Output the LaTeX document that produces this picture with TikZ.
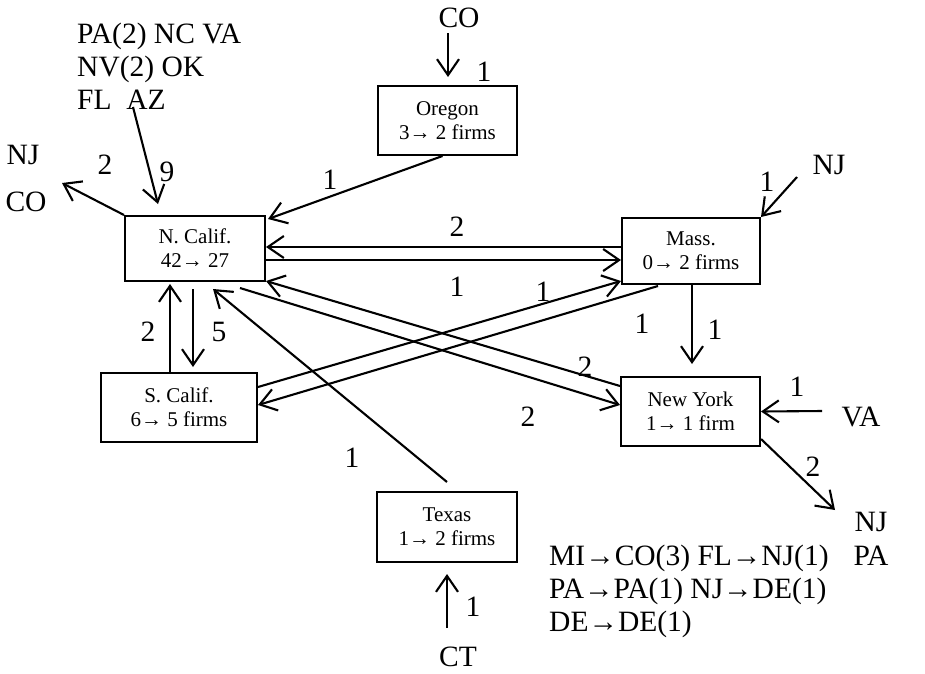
\documentclass[tikz,border=0pt]{standalone}
\usepackage{fontspec}
\setmainfont{Liberation Serif}
\usetikzlibrary{arrows.meta,calc}
\begin{document}
\begin{tikzpicture}[x=1pt,y=-1pt,
  box/.style={draw,line width=2pt,inner sep=0pt,align=center,font=\fontsize{21}{24}\selectfont},
  lbl/.style={inner sep=0pt,font=\fontsize{29.5}{33}\selectfont},
  arr/.style={line width=2.1pt,-{Straight Barb[length=16pt,width=22pt,line width=2.1pt]}},
  ln/.style={line width=2.1pt}]
\useasboundingbox (0,0) rectangle (925,673);

% boxes
\node[box,minimum width=139pt,minimum height=69pt] (or) at (447.5,120.5) {Oregon\\3→ 2 firms};
\node[box,minimum width=140pt,minimum height=65pt] (nc) at (195,248.5) {N. Calif.\\42→ 27};
\node[box,minimum width=156pt,minimum height=69pt] (sc) at (179,407.5) {S. Calif.\\6→ 5 firms};
\node[box,minimum width=138pt,minimum height=66pt] (ma) at (691,251) {Mass.\\0→ 2 firms};
\node[box,minimum width=139pt,minimum height=69pt] (ny) at (690.5,411.5) {New York\\1→ 1 firm};
\node[box,minimum width=140pt,minimum height=70pt] (tx) at (447,527) {Texas\\1→ 2 firms};

% outside texts
\node[lbl,anchor=base west] (tl1) at (77,43) {PA(2) NC VA};
\node[lbl,anchor=base west] (tl2) at (77,76) {NV(2) OK};
\node[lbl,anchor=base west] (tl3) at (77,109) {FL\ \ AZ};
\node[lbl] (njL) at (23,155) {NJ};
\node[lbl] (coL) at (26,202) {CO};
\node[lbl] (coT) at (459,18) {CO};
\node[lbl] (njR) at (829,165) {NJ};
\node[lbl] (vaR) at (861,417) {VA};
\node[lbl] (njB) at (871,522) {NJ};
\node[lbl] (paB) at (871,556) {PA};
\node[lbl] (ctB) at (458,657) {CT};
\node[lbl,anchor=base west] (br1) at (549,565) {MI→CO(3) FL→NJ(1)};
\node[lbl,anchor=base west] (br2) at (549,598) {PA→PA(1) NJ→DE(1)};
\node[lbl,anchor=base west] (br3) at (549,631) {DE→DE(1)};

% free ends
\coordinate (coTop) at (448,33);
\coordinate (azEnd) at (133,107);
\coordinate (ncOut) at (62,183);
\coordinate (njIn) at (797,177);
\coordinate (vaIn) at (822,411);
\coordinate (nyOut) at (835,510);
\coordinate (ctIn) at (447,628);

% connectors
\draw[arr] (coTop) -- ($(or.north)+(0.5,-8)$);
\draw[arr] ($(or.south)+(-5,0)$) -- ($(nc.north east)+(2,4)$);
\draw[arr] ($(ma.west)+(0,-4)$) -- ($(nc.east)+(0,-1.5)$);
\draw[arr] ($(nc.east)+(0,11.5)$) -- ($(ma.west)+(0,9)$);
\draw[arr] ($(ny.north west)+(0,10)$) -- ($(nc.south east)+(0,-1)$);
\draw[arr] ($(nc.south east)+(-26,6)$) -- ($(ny.west)+(0,-6.5)$);
\draw[arr] ($(ma.south)+(-33,1)$) -- ($(sc.east)+(0,-2.5)$);
\draw[arr] ($(sc.east)+(0,-20.5)$) -- ($(ma.south west)+(0,-4)$);
\draw[arr] ($(tx.north)+(0,-9)$) -- ($(nc.south)+(18,7)$);
\draw[arr] ($(sc.north)+(-9,0)$) -- ($(nc.south)+(-25,2)$);
\draw[arr] ($(nc.south)+(-2,7)$) -- ($(sc.north)+(14,-5)$);
\draw[arr] (nc.north west) -- (ncOut);
\draw[arr] (azEnd) -- ($(nc.north)+(-37,-11)$);
\draw[arr] (njIn) -- (ma.north east);
\draw[arr] ($(ma.south)+(1,0)$) -- ($(ny.north)+(1.5,-12)$);
\draw[arr] (vaIn) -- (ny.east);
\draw[arr] ($(ny.south east)+(0,-8)$) -- (nyOut);
\draw[arr] (ctIn) -- ($(tx.south)+(0,11)$);

% numeric labels
\node[lbl] (l1) at (484,72) {1};
\node[lbl] (l2) at (330,180) {1};
\node[lbl] (l3) at (457,227) {2};
\node[lbl] (l4) at (457,287) {1};
\node[lbl] (l5) at (543,292) {1};
\node[lbl] (l6) at (642,324) {1};
\node[lbl] (l7) at (715,330) {1};
\node[lbl] (l8) at (585,367) {2};
\node[lbl] (l9) at (528,417) {2};
\node[lbl] (l10) at (148,332) {2};
\node[lbl] (l11) at (219,332) {5};
\node[lbl] (l12) at (352,458) {1};
\node[lbl] (l13) at (105,165) {2};
\node[lbl] (l14) at (167,172) {9};
\node[lbl] (l15) at (767,182) {1};
\node[lbl] (l16) at (797,387) {1};
\node[lbl] (l17) at (813,467) {2};
\node[lbl] (l18) at (473,607) {1};
\end{tikzpicture}
\end{document}
